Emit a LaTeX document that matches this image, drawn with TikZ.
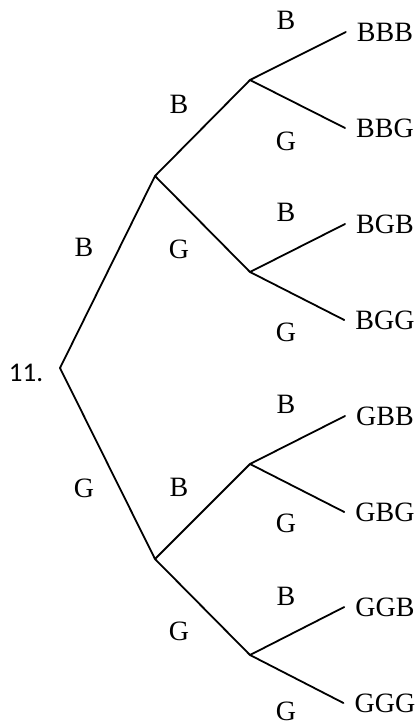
\documentclass[tikz,border=0pt]{standalone}
\usepackage{fontspec}
\setmainfont{Liberation Serif}
\newfontfamily\numfont{Carlito}
\begin{document}
\begin{tikzpicture}[x=1pt,y=-1pt,
  branch/.style={line width=1.8pt, line cap=round, line join=round},
  lbl/.style={inner sep=0pt, font=\fontsize{28}{30}\selectfont},
  leaf/.style={inner xsep=11pt, inner ysep=0pt, font=\fontsize{28}{30}\selectfont},
  numlbl/.style={inner sep=0pt, font=\numfont\fontsize{27}{30}\selectfont}]
\useasboundingbox (0,0) rectangle (415,725);
% tree points
\coordinate (r) at (60,368);
\coordinate (b) at (155,176);
\coordinate (g) at (155,559);
\coordinate (bb) at (250,80);
\coordinate (bg) at (250,272);
\coordinate (gb) at (250,464);
\coordinate (gg) at (250,655);
% leaves
\node[leaf] (bbb) at (385,32) {BBB};
\node[leaf] (bbg) at (385,128) {BBG};
\node[leaf] (bgb) at (385,224) {BGB};
\node[leaf] (bgg) at (385,320) {BGG};
\node[leaf] (gbb) at (385,416) {GBB};
\node[leaf] (gbg) at (385,512) {GBG};
\node[leaf] (ggb) at (385,607) {GGB};
\node[leaf] (ggg) at (385,703) {GGG};
% question number
\node[numlbl] (num) at (26,373) {11.};
% branches
\draw[branch] (b) -- (r) -- (g);
\draw[branch] (bb) -- (b) -- (bg);
\draw[branch] (gb) -- (g) -- (gg);
\draw[branch] (bbb.west) -- (bb) -- (bbg.west);
\draw[branch] (bgb.west) -- (bg) -- (bgg.west);
\draw[branch] (gbb.west) -- (gb) -- (gbg.west);
\draw[branch] (ggb.west) -- (gg) -- (ggg.west);
% edge labels
\node[lbl] (l1b) at (84,247) {B};
\node[lbl] (l1g) at (84,488) {G};
\node[lbl] (l2a) at (179,104) {B};
\node[lbl] (l2b) at (179,249) {G};
\node[lbl] (l2c) at (179,487) {B};
\node[lbl] (l2d) at (179,631) {G};
\node[lbl] (l3a) at (286,20) {B};
\node[lbl] (l3b) at (286,141) {G};
\node[lbl] (l3c) at (286,212) {B};
\node[lbl] (l3d) at (286,332) {G};
\node[lbl] (l3e) at (286,404) {B};
\node[lbl] (l3f) at (286,523) {G};
\node[lbl] (l3g) at (286,596) {B};
\node[lbl] (l3h) at (286,711) {G};
\end{tikzpicture}
\end{document}
